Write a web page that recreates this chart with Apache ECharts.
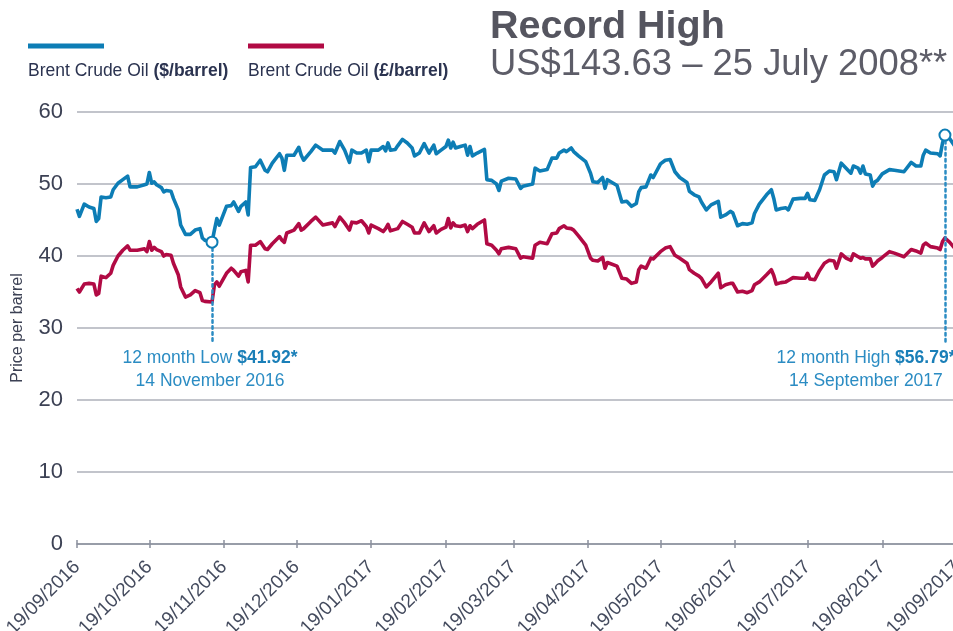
<!DOCTYPE html>
<html>
<head>
<meta charset="utf-8">
<title>Brent Crude Oil</title>
<script src="https://cdn.jsdelivr.net/npm/echarts@6/dist/echarts.min.js"></script>
<style>
  html, body { margin: 0; padding: 0; background: #ffffff; }
  #chart { width: 953px; height: 631px; }
</style>
</head>
<body>
<div id="chart"></div>
<script>
// Brent crude price sampled over the 12 months to 19/09/2017
const dates = [
  '2016-09-19','2016-09-20','2016-09-22','2016-09-24','2016-09-26','2016-09-27','2016-09-28','2016-09-29',
  '2016-10-01','2016-10-03','2016-10-04','2016-10-06','2016-10-08','2016-10-10','2016-10-11','2016-10-14','2016-10-17','2016-10-18','2016-10-19','2016-10-20','2016-10-21','2016-10-22','2016-10-24','2016-10-25','2016-10-26','2016-10-28','2016-10-29','2016-10-31',
  '2016-11-01','2016-11-03','2016-11-05','2016-11-07','2016-11-09','2016-11-10','2016-11-11','2016-11-14','2016-11-15','2016-11-16','2016-11-17','2016-11-20','2016-11-22','2016-11-23','2016-11-25','2016-11-26','2016-11-28','2016-11-29','2016-11-30',
  '2016-12-02','2016-12-04','2016-12-06','2016-12-07','2016-12-09','2016-12-12','2016-12-13','2016-12-14','2016-12-15','2016-12-18','2016-12-20','2016-12-21','2016-12-22','2016-12-25','2016-12-27','2016-12-30',
  '2017-01-03','2017-01-04','2017-01-06','2017-01-08','2017-01-10','2017-01-11','2017-01-13','2017-01-15','2017-01-17','2017-01-18','2017-01-19','2017-01-22','2017-01-24','2017-01-25','2017-01-26','2017-01-27','2017-01-29','2017-01-30',
  '2017-02-01','2017-02-03','2017-02-05','2017-02-06','2017-02-08','2017-02-10','2017-02-12','2017-02-14','2017-02-15','2017-02-17','2017-02-19','2017-02-20','2017-02-21','2017-02-22','2017-02-23','2017-02-25','2017-02-27','2017-02-28',
  '2017-03-01','2017-03-02','2017-03-04','2017-03-07','2017-03-08','2017-03-10','2017-03-12','2017-03-13','2017-03-14','2017-03-17','2017-03-20','2017-03-22','2017-03-23','2017-03-27','2017-03-28','2017-03-30',
  '2017-04-02','2017-04-04','2017-04-06','2017-04-07','2017-04-09','2017-04-10','2017-04-12','2017-04-13','2017-04-15','2017-04-18','2017-04-20','2017-04-21','2017-04-23','2017-04-25','2017-04-26','2017-04-27',
  '2017-05-01','2017-05-03','2017-05-05','2017-05-07','2017-05-09','2017-05-10','2017-05-11','2017-05-13','2017-05-15','2017-05-16','2017-05-19','2017-05-21','2017-05-23','2017-05-25','2017-05-27','2017-05-30','2017-05-31',
  '2017-06-02','2017-06-04','2017-06-05','2017-06-07','2017-06-09','2017-06-12','2017-06-13','2017-06-15','2017-06-17','2017-06-18','2017-06-20','2017-06-22','2017-06-24','2017-06-26','2017-06-27','2017-06-29',
  '2017-07-02','2017-07-04','2017-07-05','2017-07-06','2017-07-08','2017-07-10','2017-07-11','2017-07-13','2017-07-16','2017-07-18','2017-07-19','2017-07-20','2017-07-22','2017-07-24','2017-07-26','2017-07-28','2017-07-30','2017-07-31',
  '2017-08-02','2017-08-04','2017-08-06','2017-08-07','2017-08-09','2017-08-10','2017-08-11','2017-08-12','2017-08-14','2017-08-15','2017-08-16','2017-08-17','2017-08-19','2017-08-22','2017-08-24','2017-08-28','2017-08-31',
  '2017-09-02','2017-09-04','2017-09-05','2017-09-06','2017-09-08','2017-09-11','2017-09-12','2017-09-13','2017-09-14','2017-09-16','2017-09-18'
];

// Brent Crude Oil, US dollars per barrel
const usdPrices = [
  46.5,45.5,47.2,46.8,46.6,44.8,45.2,48.2,
  48.1,48.2,49.2,50.1,50.6,51.1,49.6,49.6,49.9,50.0,51.6,50.1,50.3,49.9,49.5,48.9,49.1,49.0,48.0,46.4,
  44.3,43.0,43.0,43.6,43.8,42.5,42.2,41.92,43.6,45.2,44.3,46.9,47.0,47.5,46.2,46.9,47.5,45.7,52.3,
  52.4,53.3,51.9,51.7,52.9,54.2,53.6,51.9,54.0,54.0,55.1,54.0,53.3,54.5,55.4,54.7,
  54.7,54.3,55.9,54.7,53.0,54.7,54.3,54.3,54.7,53.1,54.7,54.7,55.2,54.6,55.7,54.7,54.8,55.3,
  56.2,55.7,55.0,53.9,54.3,55.6,54.3,55.4,54.2,54.7,55.2,56.1,55.0,55.8,55.0,55.2,55.4,54.0,
  55.2,53.9,54.3,54.8,50.6,50.5,50.0,49.1,50.4,50.8,50.7,49.4,49.7,50.0,52.2,51.8,
  52.0,53.6,53.6,54.3,54.7,54.5,55.0,54.5,53.9,53.1,51.5,50.3,50.2,50.9,49.4,50.6,
  49.8,47.5,47.6,46.9,47.3,48.9,49.5,49.6,51.25,50.9,52.8,53.3,53.4,51.7,50.9,50.2,49.0,
  48.5,48.2,47.5,46.4,47.1,47.6,45.4,45.7,46.2,46.0,44.2,44.5,44.4,44.6,45.9,47.2,
  48.5,49.2,48.0,46.4,46.6,46.7,46.4,47.9,48.0,48.0,48.7,47.8,47.7,49.2,51.25,51.8,51.7,50.6,
  52.9,52.2,51.5,52.5,52.2,51.5,52.5,51.4,51.25,49.7,50.3,50.5,51.4,52.0,51.9,51.7,53.0,
  52.5,52.5,54.0,54.7,54.3,54.2,53.9,55.7,56.79,56.3,55.3
];

// Brent Crude Oil, pounds sterling per barrel
const gbpPrices = [
  35.5,35.0,36.1,36.2,36.1,34.6,34.8,37.2,
  37.0,37.6,38.7,40.0,40.8,41.4,40.8,40.8,41.0,40.6,42.0,40.8,41.2,40.9,40.6,40.0,40.2,40.1,39.0,37.4,
  35.7,34.3,34.6,35.2,34.9,33.8,33.7,33.6,36.0,36.4,35.8,37.6,38.3,38.0,37.2,37.8,38.0,36.4,41.5,
  41.5,42.0,41.0,40.9,41.7,42.7,42.2,41.9,43.2,43.6,44.5,43.6,43.8,44.8,45.4,44.3,
  44.6,44.1,45.4,44.6,43.6,44.7,44.6,44.9,44.1,43.2,44.3,43.8,43.4,43.8,44.4,43.5,43.7,43.8,
  44.8,44.4,44.0,43.2,43.2,44.6,43.4,44.2,43.2,43.7,44.0,45.2,43.9,44.6,44.2,44.1,44.3,43.4,
  44.2,43.8,44.4,45.0,41.7,41.5,40.8,40.3,41.0,41.2,41.0,39.7,39.9,39.7,41.5,41.9,
  41.7,43.1,43.2,43.8,44.2,43.9,43.8,43.6,42.8,41.5,39.7,39.4,39.3,39.8,38.3,39.1,
  38.6,36.9,36.8,36.2,36.4,38.1,38.6,38.3,39.7,39.6,40.6,41.1,41.3,40.1,39.7,39.0,38.1,
  37.6,37.2,36.9,35.7,36.4,37.6,35.6,36.0,36.2,36.2,35.0,35.1,34.9,35.2,36.0,36.4,
  37.4,38.1,37.3,36.1,36.3,36.4,36.6,37.0,36.9,36.9,37.6,36.8,36.7,38.0,39.0,39.4,39.3,38.3,
  40.3,39.7,39.4,40.3,39.9,39.7,39.8,39.6,39.6,38.6,38.9,39.3,39.8,40.6,40.4,39.9,40.9,
  40.7,40.4,41.5,41.8,41.3,41.1,40.9,42.0,42.5,41.9,41.1
];

// Monthly tick dates on the date axis
const monthTicks = [
  '2016-09-19','2016-10-19','2016-11-19','2016-12-19','2017-01-19','2017-02-19','2017-03-19',
  '2017-04-19','2017-05-19','2017-06-19','2017-07-19','2017-08-19','2017-09-19'
];

const yTicks = [0, 10, 20, 30, 40, 50, 60];

const seriesNames = ['Brent Crude Oil ($/barrel)', 'Brent Crude Oil (£/barrel)'];

const BLUE = '#0d7db5';
const RED = '#b10a44';
const NOTE_BLUE = '#2b8cc3';
const AXIS_GREY = '#8b909d';
const FONT = '"Liberation Sans", Arial, Helvetica, sans-serif';

const MONTHS = ['January','February','March','April','May','June','July',
                'August','September','October','November','December'];

function parseDay(s) {
  const p = s.split('-').map(Number);
  return new Date(p[0], p[1] - 1, p[2]).getTime();
}
function pad(n) { return (n < 10 ? '0' : '') + n; }
function tickLabel(v) {
  const d = new Date(v);
  return pad(d.getDate()) + '/' + pad(d.getMonth() + 1) + '/' + d.getFullYear();
}
function longDate(s) {
  const d = new Date(parseDay(s));
  return d.getDate() + ' ' + MONTHS[d.getMonth()] + ' ' + d.getFullYear();
}

// 12-month low and high of the dollar series
let lowIdx = 0, highIdx = 0;
usdPrices.forEach((v, i) => {
  if (v < usdPrices[lowIdx]) lowIdx = i;
  if (v > usdPrices[highIdx]) highIdx = i;
});
const lowDate = dates[lowIdx], lowVal = usdPrices[lowIdx];
const highDate = dates[highIdx], highVal = usdPrices[highIdx];
const noteFloor = 28;   // price level where the dotted drop lines end

const tickTimes = monthTicks.map(parseDay);

const noteLabel = (title, date, value, offsetX) => ({
  show: true,
  position: 'bottom',
  distance: 4,
  offset: [offsetX, 0],
  align: 'center',
  fontFamily: FONT,
  fontSize: 17.5,
  lineHeight: 23,
  color: NOTE_BLUE,
  formatter: '{t|' + title + ' }{v|$' + value.toFixed(2) + '*}\n{t|' + longDate(date) + '}',
  rich: {
    t: { fontFamily: FONT, fontSize: 17.5, color: NOTE_BLUE, lineHeight: 23 },
    v: { fontFamily: FONT, fontSize: 17.5, fontWeight: 'bold', color: '#1a7fb8', lineHeight: 23 }
  }
});

const dateAxisRange = { min: tickTimes[0], max: tickTimes[tickTimes.length - 1] };

const chart = echarts.init(document.getElementById('chart'), null, { renderer: 'canvas' });

chart.setOption({
  animation: false,
  backgroundColor: '#ffffff',
  textStyle: { fontFamily: FONT },
  grid: {
    left: 77, top: 112, bottom: 87, right: -4,
    containLabel: false,
    outerBoundsMode: 'none'
  },
  xAxis: [
    {
      type: 'value',
      min: dateAxisRange.min,
      max: dateAxisRange.max,
      axisLine: { show: true, lineStyle: { color: AXIS_GREY, width: 1.5 } },
      axisTick: { show: true, length: 4, customValues: tickTimes, lineStyle: { color: AXIS_GREY, width: 1.5 } },
      splitLine: { show: false },
      axisLabel: {
        customValues: tickTimes,
        rotate: 45,
        margin: 20,
        fontFamily: FONT,
        fontSize: 19,
        color: '#444b5e',
        formatter: tickLabel,
        showMinLabel: true,
        showMaxLabel: true,
        hideOverlap: false
      }
    },
    {
      // upward half of the month ticks
      type: 'value',
      position: 'bottom',
      min: dateAxisRange.min,
      max: dateAxisRange.max,
      axisLine: { show: false },
      axisTick: { show: true, inside: true, length: 4, customValues: tickTimes, lineStyle: { color: AXIS_GREY, width: 1.5 } },
      axisLabel: { show: false },
      splitLine: { show: false }
    }
  ],
  yAxis: {
    type: 'value',
    min: yTicks[0],
    max: yTicks[yTicks.length - 1],
    interval: 10,
    name: 'Price per barrel',
    nameLocation: 'middle',
    nameRotate: 90,
    nameGap: 51,
    nameTextStyle: { fontFamily: FONT, fontSize: 16, color: '#3c4154' },
    axisLine: { show: false },
    axisTick: { show: false },
    axisLabel: { fontFamily: FONT, fontSize: 22, color: '#3c4154', margin: 14 },
    splitLine: { show: true, lineStyle: { color: '#aeb1ba', width: 1.5 } }
  },
  series: [
    {
      name: seriesNames[1],
      type: 'line',
      data: dates.map((d, i) => [parseDay(d), gbpPrices[i]]),
      showSymbol: false,
      symbol: 'none',
      lineStyle: { color: RED, width: 3.6, join: 'round' },
      itemStyle: { color: RED },
      z: 2
    },
    {
      name: seriesNames[0],
      type: 'line',
      data: dates.map((d, i) => [parseDay(d), usdPrices[i]]),
      showSymbol: false,
      symbol: 'none',
      lineStyle: { color: BLUE, width: 3.6, join: 'round' },
      itemStyle: { color: BLUE },
      z: 3,
      markLine: {
        silent: true,
        symbol: ['none', 'none'],
        label: { show: false },
        lineStyle: { color: NOTE_BLUE, width: 2.5, type: [2.5, 3.5], cap: 'round' },
        data: [
          [{ coord: [parseDay(lowDate), lowVal] }, { coord: [parseDay(lowDate), noteFloor] }],
          [{ coord: [parseDay(highDate), highVal] }, { coord: [parseDay(highDate), noteFloor] }]
        ]
      },
      markPoint: {
        silent: true,
        symbol: 'circle',
        symbolSize: 11,
        itemStyle: { color: '#ffffff', borderColor: BLUE, borderWidth: 2 },
        label: { show: false },
        data: [
          { coord: [parseDay(lowDate), lowVal] },
          { coord: [parseDay(highDate), highVal] },
          { coord: [parseDay(lowDate), noteFloor], symbolSize: 0,
            label: noteLabel('12 month Low', lowDate, lowVal, -2) },
          { coord: [parseDay(highDate), noteFloor], symbolSize: 0,
            label: noteLabel('12 month High', highDate, highVal, -79) }
        ]
      }
    }
  ],
  graphic: [
    { type: 'rect', left: 28, top: 43.5, shape: { width: 76, height: 5 }, style: { fill: BLUE } },
    { type: 'rect', left: 248, top: 43.5, shape: { width: 76, height: 5 }, style: { fill: RED } },
    {
      type: 'text', x: 28, y: 71,
      style: {
        text: '{n|Brent Crude Oil }{b|($/barrel)}',
        verticalAlign: 'middle',
        rich: {
          n: { fontFamily: FONT, fontSize: 17.5, fill: '#2b3350' },
          b: { fontFamily: FONT, fontSize: 17.5, fontWeight: 'bold', fill: '#2b3350' }
        }
      }
    },
    {
      type: 'text', x: 248, y: 71,
      style: {
        text: '{n|Brent Crude Oil }{b|(£/barrel)}',
        verticalAlign: 'middle',
        rich: {
          n: { fontFamily: FONT, fontSize: 17.5, fill: '#2b3350' },
          b: { fontFamily: FONT, fontSize: 17.5, fontWeight: 'bold', fill: '#2b3350' }
        }
      }
    },
    {
      type: 'text', x: 490, y: 27,
      style: {
        text: 'Record High',
        font: 'bold 39.5px ' + FONT,
        fill: '#55555f',
        verticalAlign: 'middle'
      }
    },
    {
      type: 'text', x: 490, y: 65,
      style: {
        text: 'US$143.63 – 25 July 2008**',
        font: '36.4px ' + FONT,
        fill: '#5d5d68',
        verticalAlign: 'middle'
      }
    }
  ]
});
</script>
</body>
</html>
